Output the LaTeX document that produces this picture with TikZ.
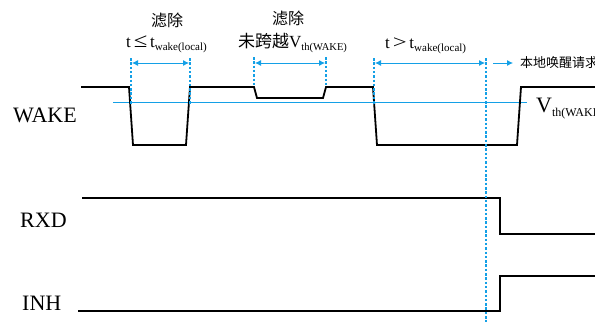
\documentclass[tikz,border=0pt]{standalone}
\usepackage{graphicx}
\usepackage{fontspec}
\setmainfont{Liberation Serif}
\newfontfamily\cjk{Noto Sans CJK SC}
\usetikzlibrary{arrows.meta}
\definecolor{cblue}{RGB}{20,160,230}
\tikzset{
  sig/.style={line width=1.8pt, black, line join=miter},
  thr/.style={line width=0.9pt, cblue},
  guide/.style={line width=1.1pt, cblue, dash pattern=on 2.5pt off 1.8pt},
  span/.style={line width=0.8pt, cblue, {Latex[length=6pt,width=6pt]}-{Latex[length=6pt,width=6pt]}},
  onearrow/.style={line width=0.8pt, cblue, -{Latex[length=6pt,width=6pt]}},
  lbl/.style={inner sep=0pt, font=\fontsize{22}{24}\selectfont},
  ann/.style={inner sep=0pt, font=\fontsize{17}{19}\selectfont},
}
\begin{document}
\begin{tikzpicture}[x=1pt,y=-1pt]
\useasboundingbox (0,0) rectangle (595,322);
\clip (0,0) rectangle (595,322);
% signal labels
\node[lbl, anchor=base west] (lwake) at (13,122) {WAKE};
\node[lbl, anchor=base west] (lrxd) at (20,227) {RXD};
\node[lbl, anchor=base west] (linh) at (22,310) {INH};
% threshold
\coordinate (th1) at (113,102);
\coordinate (th2) at (527,102);
\draw[thr] (th1) -- (th2);
\node[inner sep=0pt, anchor=base west, font=\fontsize{22}{24}\selectfont] (vth) at (536,112) {V\raisebox{-4pt}{\fontsize{12}{14}\selectfont th(WAKE)}};
% WAKE waveform
\draw[sig] (81,87) -- (129,87) -- (133,145) -- (186,145) -- (190,87) -- (254,87) -- (257,98) -- (323,98) -- (326,87) -- (373,87) -- (377,145) -- (517,145) -- (521,87) -- (600,87);
% RXD
\draw[sig] (82,198) -- (500,198) -- (500,234) -- (600,234);
% INH
\draw[sig] (78,311) -- (500,311) -- (500,276) -- (600,276);
% guides
\coordinate (g1t) at (131,58); \coordinate (g1b) at (131,104);
\coordinate (g2t) at (190,58); \coordinate (g2b) at (190,104);
\coordinate (g3t) at (254,57); \coordinate (g3b) at (254,87);
\coordinate (g4t) at (326,57); \coordinate (g4b) at (326,87);
\coordinate (g5t) at (374,58); \coordinate (g5b) at (374,104);
\coordinate (g6t) at (486,58); \coordinate (g6b) at (486,322);
\foreach \g in {1,...,6} \draw[guide] (g\g t) -- (g\g b);
% spans
\coordinate (a1l) at (132,63); \coordinate (a1r) at (189,63);
\coordinate (a2l) at (255,63); \coordinate (a2r) at (325,63);
\coordinate (a3l) at (375,63); \coordinate (a3r) at (485,63);
\draw[span] (a1l) -- (a1r);
\draw[span] (a2l) -- (a2r);
\draw[span] (a3l) -- (a3r);
\coordinate (a4l) at (493,63); \coordinate (a4r) at (513,63);
\draw[onearrow] (a4l) -- (a4r);
% annotations
\node[ann, font=\cjk\fontsize{16}{18}\selectfont] (f1) at (167,20) {滤除};
\node[ann, font=\cjk\fontsize{16}{18}\selectfont] (f2) at (288,18) {滤除};
\node[ann, anchor=base west] (c1) at (126,47) {t\,\scalebox{1.45}[1.2]{≤}\,t\raisebox{-3pt}{\fontsize{11}{12}\selectfont wake(local)}};
\node[ann, anchor=base west] (c2) at (238,47) {{\cjk 未跨越}V\raisebox{-3pt}{\fontsize{10.5}{12}\selectfont th(WAKE)}};
\node[ann, anchor=base west] (c3) at (385,48) {t\,\scalebox{1.45}[1.1]{>}\,t\raisebox{-3pt}{\fontsize{11}{12}\selectfont wake(local)}};
\node[inner sep=0pt, anchor=west, font=\cjk\fontsize{13}{15}\selectfont] (req) at (520,63) {本地唤醒请求};
\end{tikzpicture}
\end{document}
